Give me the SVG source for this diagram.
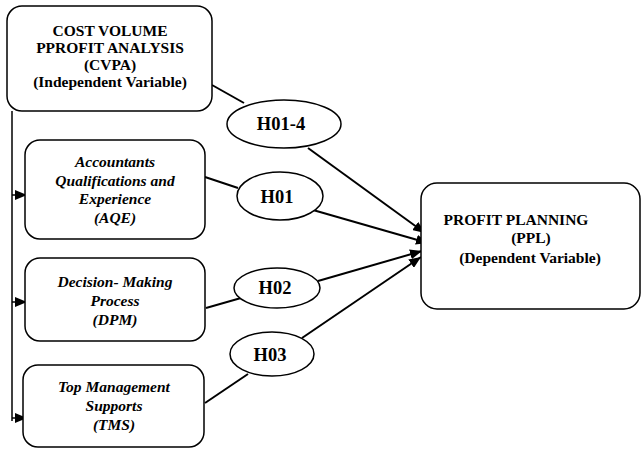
<svg xmlns="http://www.w3.org/2000/svg" width="644" height="452" viewBox="0 0 644 452">
<style>
.box{fill:#fff;stroke:#000;stroke-width:1.5}
.ell{fill:#fff;stroke:#000;stroke-width:1.5}
.t{font-family:"Liberation Serif","Times New Roman",serif;font-weight:bold;font-size:15.5px;fill:#000;text-anchor:middle}
.i{font-style:italic}
.h{font-size:18.5px}
.c{stroke:#000;stroke-width:2;fill:none}
</style>
<defs>
<marker id="arr" viewBox="0 0 12 10" refX="12" refY="5" markerWidth="12" markerHeight="10" markerUnits="userSpaceOnUse" orient="auto">
<path d="M0,0 L12,5 L0,10 Z" fill="#000"/>
</marker>
</defs>
<g id="connectors">
<line class="c" x1="212" y1="85" x2="244" y2="103"/>
<line class="c" x1="308" y1="148" x2="425" y2="233" marker-end="url(#arr)"/>
<line class="c" x1="205" y1="177" x2="238" y2="188"/>
<line class="c" x1="313" y1="210" x2="428" y2="243" marker-end="url(#arr)"/>
<line class="c" x1="206" y1="308" x2="241" y2="298"/>
<line class="c" x1="318" y1="281" x2="422" y2="251" marker-end="url(#arr)"/>
<line class="c" x1="205" y1="403" x2="248" y2="374"/>
<line class="c" x1="302" y1="338" x2="421" y2="257" marker-end="url(#arr)"/>
<line class="c" x1="12" y1="111" x2="12" y2="421" style="stroke-width:1.5"/>
<line class="c" x1="12" y1="195" x2="27" y2="195" marker-end="url(#arr)" style="stroke-width:1.5"/>
<line class="c" x1="12" y1="302" x2="27" y2="302" marker-end="url(#arr)" style="stroke-width:1.5"/>
<line class="c" x1="12" y1="418" x2="27" y2="418" marker-end="url(#arr)" style="stroke-width:1.5"/>
</g>
<g id="cvpa">
<rect class="box" x="7" y="6" width="205" height="105" rx="15"/>
<text class="t" x="110" y="36">COST VOLUME</text>
<text class="t" x="110" y="53">PPROFIT ANALYSIS</text>
<text class="t" x="110" y="70">(CVPA)</text>
<text class="t" x="110" y="87">(Independent Variable)</text>
</g>
<g id="aqe">
<rect class="box" x="25" y="140" width="180" height="99" rx="15"/>
<text class="t i" x="115" y="167">Accountants</text>
<text class="t i" x="115" y="186">Qualifications and</text>
<text class="t i" x="115" y="204">Experience</text>
<text class="t i" x="115" y="223">(AQE)</text>
</g>
<g id="dpm">
<rect class="box" x="25" y="258" width="180" height="83" rx="15"/>
<text class="t i" x="115" y="287">Decision- Making</text>
<text class="t i" x="115" y="306">Process</text>
<text class="t i" x="115" y="325">(DPM)</text>
</g>
<g id="tms">
<rect class="box" x="23" y="365" width="181" height="82" rx="15"/>
<text class="t i" x="114" y="392">Top Management</text>
<text class="t i" x="114" y="411">Supports</text>
<text class="t i" x="114" y="430">(TMS)</text>
</g>
<g id="h014">
<ellipse class="ell" cx="284" cy="124" rx="57" ry="24"/>
<text class="t h" x="281" y="130">H01-4</text>
</g>
<g id="h01">
<ellipse class="ell" cx="280" cy="196" rx="43" ry="24"/>
<text class="t h" x="277" y="203">H01</text>
</g>
<g id="h02">
<ellipse class="ell" cx="277" cy="288" rx="43" ry="20"/>
<text class="t h" x="275" y="294">H02</text>
</g>
<g id="h03">
<ellipse class="ell" cx="272" cy="354" rx="42" ry="22"/>
<text class="t h" x="270" y="361">H03</text>
</g>
<g id="ppl">
<rect class="box" x="421" y="183" width="219" height="126" rx="16"/>
<text class="t" x="516" y="225">PROFIT PLANNING</text>
<text class="t" x="531" y="243">(PPL)</text>
<text class="t" x="530" y="263">(Dependent Variable)</text>
</g>
</svg>
